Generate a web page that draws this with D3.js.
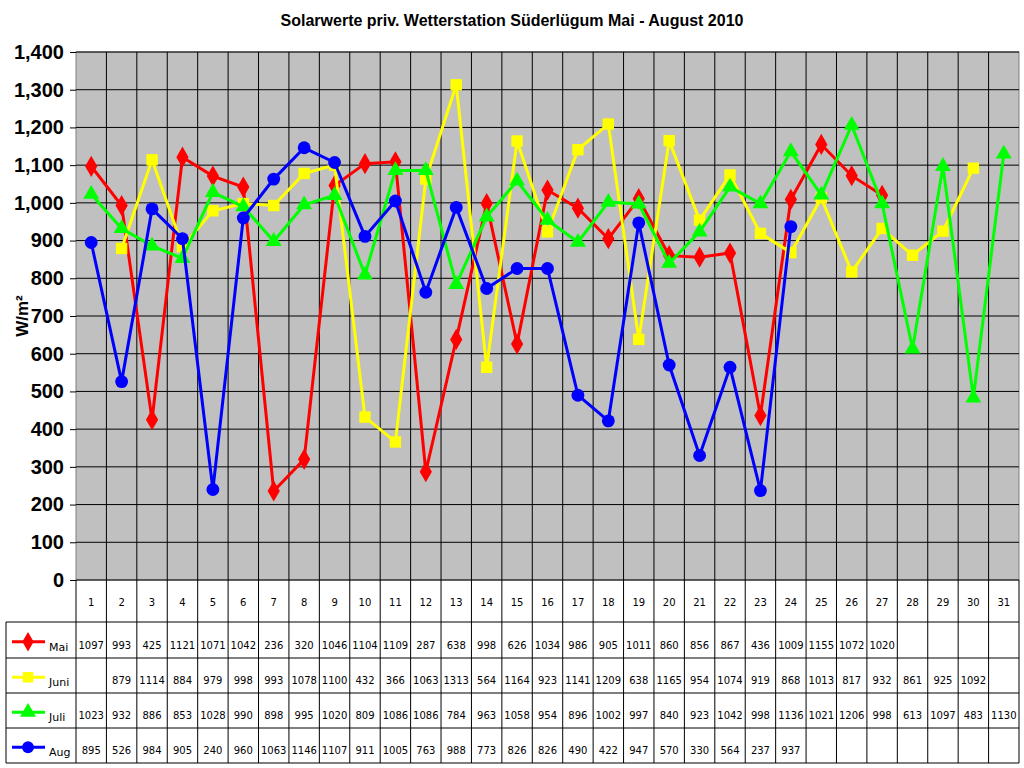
<!DOCTYPE html><html><head><meta charset="utf-8"><script src="https://cdn.jsdelivr.net/npm/d3@7"></script>
<style>body{margin:0;background:#fff}</style></head><body><svg id="c" width="1024" height="768"></svg><script>
const days=d3.range(1,32);
const mai=[1097,993,425,1121,1071,1042,236,320,1046,1104,1109,287,638,998,626,1034,986,905,1011,860,856,867,436,1009,1155,1072,1020];
const juni=[null,879,1114,884,979,998,993,1078,1100,432,366,1063,1313,564,1164,923,1141,1209,638,1165,954,1074,919,868,1013,817,932,861,925,1092];
const juli=[1023,932,886,853,1028,990,898,995,1020,809,1086,1086,784,963,1058,954,896,1002,997,840,923,1042,998,1136,1021,1206,998,613,1097,483,1130];
const aug=[895,526,984,905,240,960,1063,1146,1107,911,1005,763,988,773,826,826,490,422,947,570,330,564,237,937];
const yTicks=d3.range(0,1401,100);
const series=[{name:"Mai",v:mai,c:"#ff0000",s:d3.symbolDiamond},{name:"Juni",v:juni,c:"#ffff00",s:d3.symbolSquare},{name:"Juli",v:juli,c:"#00ff00",s:d3.symbolTriangle},{name:"Aug",v:aug,c:"#0000ff",s:d3.symbolCircle}];
const svg=d3.select("#c");
const L=76,R=1019,T=52,B=580;
const x=d3.scaleBand().domain(days).range([L,R]);
const y=d3.scaleLinear().domain([0,1400]).range([B,T]);
svg.append("text").attr("x",512).attr("y",26).attr("text-anchor","middle").attr("font-family","Liberation Sans, Arial").attr("font-weight","bold").attr("font-size",16).text("Solarwerte priv. Wetterstation Süderlügum Mai - August 2010");
svg.append("rect").attr("x",L).attr("y",T).attr("width",R-L).attr("height",B-T).attr("fill","#c0c0c0").attr("stroke","#808080");
svg.selectAll(".hg").data(yTicks).join("line").attr("x1",L).attr("x2",R).attr("y1",d=>y(d)).attr("y2",d=>y(d)).attr("stroke","#000");
svg.selectAll(".vg").data(days.slice(1)).join("line").attr("x1",d=>x(d)).attr("x2",d=>x(d)).attr("y1",T).attr("y2",B).attr("stroke","#000");
const ax=svg.append("g").attr("transform",`translate(${L},0)`).call(d3.axisLeft(y).tickValues(yTicks).tickSize(6).tickPadding(6));
ax.select(".domain").remove();
ax.selectAll("text").attr("font-family","Liberation Sans, Arial").attr("font-weight","bold").attr("font-size",20).attr("fill","#000");
ax.selectAll("line").attr("stroke","#000");
svg.append("text").attr("transform","translate(28,316) rotate(-90)").attr("text-anchor","middle").attr("font-family","Liberation Sans, Arial").attr("font-weight","bold").attr("font-size",17).text("W/m²");
const cx=d=>x(d)+x.bandwidth()/2;
series.forEach(s=>{
  const pts=s.v.map((v,i)=>({d:i+1,v})).filter(p=>p.v!=null);
  svg.append("path").datum(pts).attr("fill","none").attr("stroke",s.c).attr("stroke-width",3).attr("d",d3.line().x(p=>cx(p.d)).y(p=>y(p.v)));
  svg.selectAll(null).data(pts).join("path").attr("transform",p=>`translate(${cx(p.d)},${y(p.v)})`).attr("d",d3.symbol().type(s.s).size(s.s===d3.symbolTriangle?110:130)).attr("fill",s.c);
});
// table
const ff="DejaVu Sans, Verdana";
const rows=[580,622,658,693,728,763];
svg.append("line").attr("x1",L).attr("x2",L).attr("y1",B).attr("y2",763).attr("stroke","#000");
svg.selectAll(".tv").data(days).join("line").attr("x1",d=>x(d)+x.bandwidth()).attr("x2",d=>x(d)+x.bandwidth()).attr("y1",B).attr("y2",763).attr("stroke","#000");
svg.selectAll(".th").data(rows.slice(1)).join("line").attr("x1",6).attr("x2",R).attr("y1",d=>d).attr("y2",d=>d).attr("stroke","#000");
svg.append("line").attr("x1",6).attr("x2",6).attr("y1",622).attr("y2",763).attr("stroke","#000");
svg.selectAll(".dl").data(days).join("text").attr("x",d=>cx(d)).attr("y",606).attr("text-anchor","middle").attr("font-family",ff).attr("font-size",10).text(d=>d);
series.forEach((s,i)=>{
  const ry=rows[i+1], h=rows[i+2]-ry;
  svg.append("line").attr("x1",12).attr("x2",45).attr("y1",ry+h*0.55).attr("y2",ry+h*0.55).attr("stroke",s.c).attr("stroke-width",3);
  svg.append("path").attr("transform",`translate(28,${ry+h*0.55})`).attr("d",d3.symbol().type(s.s).size(110)).attr("fill",s.c);
  svg.append("text").attr("x",49).attr("y",ry+h*0.8).attr("font-family",ff).attr("font-size",11).text(s.name);
  svg.selectAll(null).data(s.v.map((v,j)=>({d:j+1,v})).filter(p=>p.v!=null)).join("text").attr("x",p=>cx(p.d)).attr("y",ry+h*0.75).attr("text-anchor","middle").attr("font-family",ff).attr("font-size",10).text(p=>p.v);
});
</script></body></html>
